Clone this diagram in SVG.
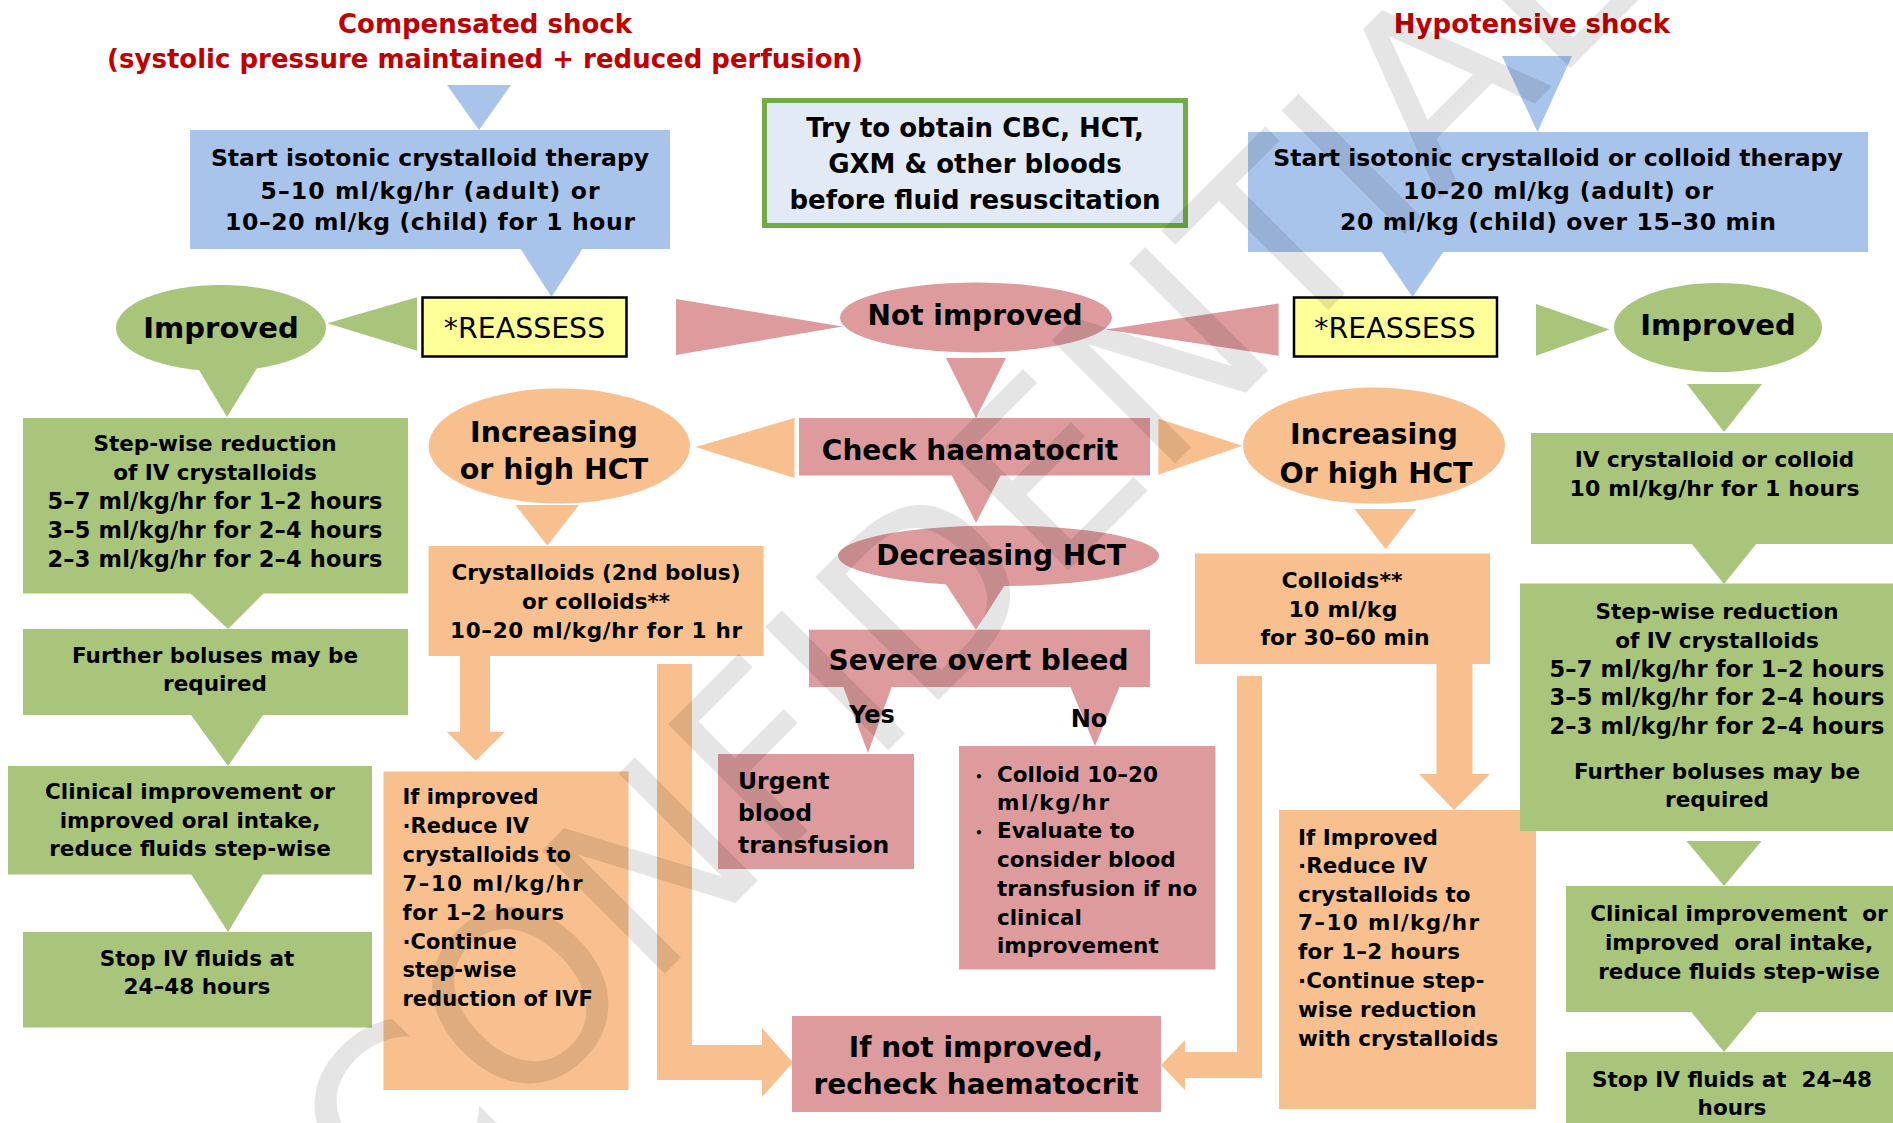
<svg xmlns="http://www.w3.org/2000/svg" width="1893" height="1123" viewBox="0 0 1893 1123">
  <defs>
    <style>
      text { font-family: "DejaVu Sans", Verdana, sans-serif; font-weight: bold; fill: #000; }
      .c { text-anchor: middle; }
      .title { fill: #C00000; font-size: 26px; }
      .blue { fill: #A9C4EB; }
      .green { fill: #A9C47B; }
      .orange { fill: #F9C08F; }
      .pink { fill: #DD9B9E; }
      .reassess { fill: #FFFF99; stroke: #000; stroke-width: 2.5; }
      .reassess-t { font-weight: normal; font-size: 28.4px; }
      .f21 { font-size: 21px; }
      .f215 { font-size: 21.5px; }
      .f225 { font-size: 22.5px; }
      .f22 { font-size: 22px; }
      .f235 { font-size: 23.5px; }
      .f24 { font-size: 24px; }
      .f26 { font-size: 26px; }
      .f28 { font-size: 28px; }
      .f285 { font-size: 28.5px; }
      .f29 { font-size: 29px; }
      .dot { font-size: 12px; }
      .wm { font-family: "DejaVu Sans", Verdana, sans-serif; font-weight: normal; fill: #000; fill-opacity: 0.1; }
    </style>
  </defs>

  <rect width="1893" height="1123" fill="#FFFFFF"/>

  <!-- connectors: triangles and block arrows -->
  <g id="connectors">
    <polygon class="blue" points="447,85 511,85 479,130"/>
    <polygon class="blue" points="520,248 583,248 551.5,297"/>
    <polygon class="blue" points="1502,56 1572,56 1537.5,132"/>
    <polygon class="blue" points="1381,251 1444,251 1412.5,297"/>
    <polygon class="green" points="417,297.3 417,350.7 327.3,323.3"/>
    <polygon class="green" points="1536,304 1536,355.7 1609.5,329.6"/>
    <polygon class="pink" points="676,299 676,355 842.5,326.5"/>
    <polygon class="pink" points="1278.6,303.5 1278.6,355.7 1105.7,329.6"/>
    <polygon class="pink" points="946,358 1006,358 976,418"/>
    <polygon class="pink" points="951.6,475 1000.7,475 976,523"/>
    <polygon class="orange" points="794.5,418 794.5,478 695.6,447"/>
    <polygon class="orange" points="1158.4,418.7 1158.4,474.7 1242.5,445.7"/>
    <polygon class="orange" points="515.3,505 579,505 547.4,545.5"/>
    <polygon class="orange" points="1354.5,509 1416.7,509 1385.6,549"/>
    <polygon class="green" points="190,593 264,593 228,629"/>
    <polygon class="green" points="191,715 263,715 228,766"/>
    <polygon class="green" points="191,874 263,874 228,932"/>
    <polygon class="green" points="1687,384 1762,384 1724,432"/>
    <polygon class="green" points="1691,543 1757,543 1724,584"/>
    <polygon class="green" points="1686.5,841 1761.5,841 1724,886"/>
    <polygon class="green" points="1690.5,1011 1758,1011 1724,1052"/>
    <polygon class="pink" points="843,686 892,686 868,753"/>
    <polygon class="pink" points="1070,686 1120,686 1095,746"/>
    <polygon class="orange" points="460,655 490,655 490,731.7 505,731.7 475.7,760.7 446.7,731.7 460,731.7"/>
    <polygon class="orange" points="1436.5,663 1472.5,663 1472.5,774 1490,774 1454,810 1419,774 1436.5,774"/>
    <polygon class="orange" points="657,664 692,664 692,1045 762,1045 762,1028 793,1062.5 762,1097 762,1080 657,1080"/>
    <polygon class="orange" points="1237,676 1262,676 1262,1078 1185,1078 1185,1090 1161,1065 1185,1040 1185,1052 1237,1052"/>
  </g>

  <!-- headings -->
  <g id="title-compensated">
    <text class="c title" x="485" y="33">Compensated shock</text>
    <text class="c title" x="485" y="68">(systolic pressure maintained + reduced perfusion)</text>
  </g>
  <g id="title-hypotensive">
    <text class="c title" x="1532" y="33">Hypotensive shock</text>
  </g>

  <!-- initial therapy boxes -->
  <g id="start-compensated">
    <rect class="blue" x="190" y="130" width="480" height="119"/>
    <text class="c f235" x="430" y="166">Start isotonic crystalloid therapy</text>
    <text class="c f235" x="430" y="198.5" textLength="339" lengthAdjust="spacing">5–10 ml/kg/hr (adult) or</text>
    <text class="c f235" x="430" y="230" textLength="410" lengthAdjust="spacing">10–20 ml/kg (child) for 1 hour</text>
  </g>
  <g id="obtain-bloods">
    <rect x="764.5" y="100.5" width="421" height="125" fill="#E2EAF6" stroke="#70AD47" stroke-width="5"/>
    <text class="c f26" x="975" y="137">Try to obtain CBC, HCT,</text>
    <text class="c f26" x="975" y="173">GXM &amp; other bloods</text>
    <text class="c f26" x="975" y="209">before fluid resuscitation</text>
  </g>
  <g id="start-hypotensive">
    <rect class="blue" x="1248" y="132" width="620" height="120"/>
    <text class="c f235" x="1558" y="166">Start isotonic crystalloid or colloid therapy</text>
    <text class="c f235" x="1558" y="198.5" textLength="310" lengthAdjust="spacing">10–20 ml/kg (adult) or</text>
    <text class="c f235" x="1558" y="230" textLength="436" lengthAdjust="spacing">20 ml/kg (child) over 15–30 min</text>
  </g>

  <!-- reassessment -->
  <g id="reassess-left">
    <rect class="reassess" x="422.5" y="297.5" width="204" height="59"/>
    <text class="c reassess-t" x="524.5" y="338">*REASSESS</text>
  </g>
  <g id="reassess-right">
    <rect class="reassess" x="1294" y="297.5" width="203" height="59"/>
    <text class="c reassess-t" x="1395" y="338">*REASSESS</text>
  </g>
  <g id="improved-left">
    <ellipse class="green" cx="221" cy="328" rx="105" ry="43"/>
    <polygon class="green" points="193,360 262,360 227,417"/>
    <text class="c f29" x="221" y="338">Improved</text>
  </g>
  <g id="improved-right">
    <ellipse class="green" cx="1718" cy="327.5" rx="104" ry="44.5"/>
    <text class="c f29" x="1718" y="335">Improved</text>
  </g>
  <g id="not-improved">
    <ellipse class="pink" cx="976" cy="317.5" rx="136" ry="35"/>
    <text class="c f28" x="975" y="324.5">Not improved</text>
  </g>

  <!-- haematocrit branch -->
  <g id="check-hct">
    <rect class="pink" x="799" y="418" width="351" height="57.5"/>
    <text class="c f28" x="970" y="460">Check haematocrit</text>
  </g>
  <g id="decreasing-hct">
    <ellipse class="pink" cx="998.5" cy="555.75" rx="160.5" ry="30.25"/>
    <polygon class="pink" points="943,580 1008,580 976,630"/>
    <text class="c f28" x="1001" y="565">Decreasing HCT</text>
  </g>
  <g id="severe-bleed">
    <rect class="pink" x="809" y="629.7" width="341" height="57.3"/>
    <text class="c f28" x="978.5" y="670">Severe overt bleed</text>
  </g>
  <g id="label-yes">
    <text class="c f24" x="872" y="722.5">Yes</text>
  </g>
  <g id="label-no">
    <text class="c f24" x="1089" y="727">No</text>
  </g>
  <g id="urgent-transfusion">
    <rect class="pink" x="718" y="754" width="196" height="115"/>
    <text class="f235" x="738" y="789">Urgent</text>
    <text class="f235" x="738" y="821">blood</text>
    <text class="f235" x="738" y="853">transfusion</text>
  </g>
  <g id="colloid-evaluate">
    <rect class="pink" x="959" y="746" width="256.5" height="223.5"/>
    <text class="dot" x="975" y="780.5">•</text>
    <text class="dot" x="975" y="837">•</text>
    <text class="f215" x="997" y="781.5">Colloid 10–20</text>
    <text class="f215" x="997" y="809.5" textLength="112" lengthAdjust="spacing">ml/kg/hr</text>
    <text class="f215" x="997" y="838">Evaluate to</text>
    <text class="f215" x="997" y="867">consider blood</text>
    <text class="f215" x="997" y="895.5">transfusion if no</text>
    <text class="f215" x="997" y="924.5">clinical</text>
    <text class="f215" x="997" y="953">improvement</text>
  </g>
  <g id="recheck-hct">
    <rect class="pink" x="792" y="1016" width="369" height="96"/>
    <text class="c f28" x="976" y="1057">If not improved,</text>
    <text class="c f28" x="976" y="1094">recheck haematocrit</text>
  </g>

  <!-- compensated: increasing HCT path -->
  <g id="increasing-hct-left">
    <ellipse class="orange" cx="559.3" cy="446" rx="130.7" ry="57.5"/>
    <text class="c f285" x="554" y="441.5">Increasing</text>
    <text class="c f285" x="554" y="478.5">or high HCT</text>
  </g>
  <g id="second-bolus">
    <rect class="orange" x="428.6" y="546" width="335" height="110"/>
    <text class="c f215" x="596" y="580">Crystalloids (2nd bolus)</text>
    <text class="c f215" x="596" y="608.5">or colloids**</text>
    <text class="c f215" x="596" y="637.5" textLength="292" lengthAdjust="spacing">10–20 ml/kg/hr for 1 hr</text>
  </g>
  <g id="if-improved-left">
    <rect class="orange" x="383.5" y="771.5" width="245" height="318.5"/>
    <text class="f21" x="402.5" y="804">If improved</text>
    <text class="f21" x="402.5" y="833">·Reduce IV</text>
    <text class="f21" x="402.5" y="862">crystalloids to</text>
    <text class="f21" x="402.5" y="891" textLength="180" lengthAdjust="spacing">7–10 ml/kg/hr</text>
    <text class="f21" x="402.5" y="919.5" textLength="161.5" lengthAdjust="spacing">for 1–2 hours</text>
    <text class="f21" x="402.5" y="948.5">·Continue</text>
    <text class="f21" x="402.5" y="977">step-wise</text>
    <text class="f21" x="402.5" y="1006">reduction of IVF</text>
  </g>

  <!-- hypotensive: increasing HCT path -->
  <g id="increasing-hct-right">
    <ellipse class="orange" cx="1374" cy="445.6" rx="131" ry="58"/>
    <text class="c f285" x="1374" y="443.6">Increasing</text>
    <text class="c f285" x="1376" y="483">Or high HCT</text>
  </g>
  <g id="colloids-right">
    <rect class="orange" x="1195" y="553.5" width="295" height="110.5"/>
    <text class="c f22" x="1342" y="588">Colloids**</text>
    <text class="c f22" x="1343" y="616.7" textLength="109" lengthAdjust="spacing">10 ml/kg</text>
    <text class="c f22" x="1345" y="645.3">for 30–60 min</text>
  </g>
  <g id="if-improved-right">
    <rect class="orange" x="1279" y="810" width="257" height="299"/>
    <text class="f215" x="1298" y="845">If Improved</text>
    <text class="f215" x="1298" y="873">·Reduce IV</text>
    <text class="f215" x="1298" y="901.6">crystalloids to</text>
    <text class="f215" x="1298" y="930.2" textLength="181" lengthAdjust="spacing">7–10 ml/kg/hr</text>
    <text class="f215" x="1298" y="959.2" textLength="162" lengthAdjust="spacing">for 1–2 hours</text>
    <text class="f215" x="1298" y="987.8">·Continue step-</text>
    <text class="f215" x="1298" y="1016.9">wise reduction</text>
    <text class="f215" x="1298" y="1045.5">with crystalloids</text>
  </g>

  <!-- compensated: improved path -->
  <g id="stepwise-left">
    <rect class="green" x="23" y="418" width="385" height="175.5"/>
    <text class="c f215" x="215" y="450.7">Step-wise reduction</text>
    <text class="c f215" x="215" y="480">of IV crystalloids</text>
    <text class="c f225" x="215" y="509" textLength="335" lengthAdjust="spacing">5–7 ml/kg/hr for 1–2 hours</text>
    <text class="c f225" x="215" y="538" textLength="335" lengthAdjust="spacing">3–5 ml/kg/hr for 2–4 hours</text>
    <text class="c f225" x="215" y="567" textLength="335" lengthAdjust="spacing">2–3 ml/kg/hr for 2–4 hours</text>
  </g>
  <g id="boluses-left">
    <rect class="green" x="23" y="629" width="385" height="86"/>
    <text class="c f215" x="215" y="662.8">Further boluses may be</text>
    <text class="c f215" x="215" y="690.5">required</text>
  </g>
  <g id="clinical-left">
    <rect class="green" x="8" y="766" width="364" height="108.5"/>
    <text class="c f215" x="190" y="798.8">Clinical improvement or</text>
    <text class="c f215" x="190" y="828">improved oral intake,</text>
    <text class="c f215" x="190" y="856.4">reduce fluids step-wise</text>
  </g>
  <g id="stop-left">
    <rect class="green" x="23" y="932" width="349" height="95.5"/>
    <text class="c f215" x="197" y="966">Stop IV fluids at</text>
    <text class="c f215" x="197" y="994">24–48 hours</text>
  </g>

  <!-- hypotensive: improved path -->
  <g id="iv-right">
    <rect class="green" x="1531" y="433" width="362" height="111"/>
    <text class="c f215" x="1714.5" y="467">IV crystalloid or colloid</text>
    <text class="c f22" x="1714.5" y="496" textLength="290" lengthAdjust="spacing">10 ml/kg/hr for 1 hours</text>
  </g>
  <g id="stepwise-right">
    <rect class="green" x="1520" y="583.5" width="373" height="247.5"/>
    <text class="c f215" x="1717" y="619">Step-wise reduction</text>
    <text class="c f215" x="1717" y="647.6">of IV crystalloids</text>
    <text class="c f225" x="1717" y="676.6" textLength="335" lengthAdjust="spacing">5–7 ml/kg/hr for 1–2 hours</text>
    <text class="c f225" x="1717" y="705.2" textLength="335" lengthAdjust="spacing">3–5 ml/kg/hr for 2–4 hours</text>
    <text class="c f225" x="1717" y="734.3" textLength="335" lengthAdjust="spacing">2–3 ml/kg/hr for 2–4 hours</text>
    <text class="c f215" x="1717" y="779">Further boluses may be</text>
    <text class="c f215" x="1717" y="807">required</text>
  </g>
  <g id="clinical-right">
    <rect class="green" x="1566" y="886" width="327" height="126"/>
    <text class="c f215" x="1739" y="921" xml:space="preserve">Clinical improvement  or</text>
    <text class="c f215" x="1739" y="950" xml:space="preserve">improved  oral intake,</text>
    <text class="c f215" x="1739" y="978.6">reduce fluids step-wise</text>
  </g>
  <g id="stop-right">
    <rect class="green" x="1566" y="1052" width="327" height="71"/>
    <text class="c f215" x="1732" y="1087" xml:space="preserve">Stop IV fluids at  24–48</text>
    <text class="c f215" x="1732" y="1114.6">hours</text>
  </g>

  <!-- diagonal watermark -->
  <text class="wm" x="0" y="0" text-anchor="middle" font-size="239" transform="translate(1022.5,616) rotate(-45)">CONFIDENTIAL</text>
</svg>
